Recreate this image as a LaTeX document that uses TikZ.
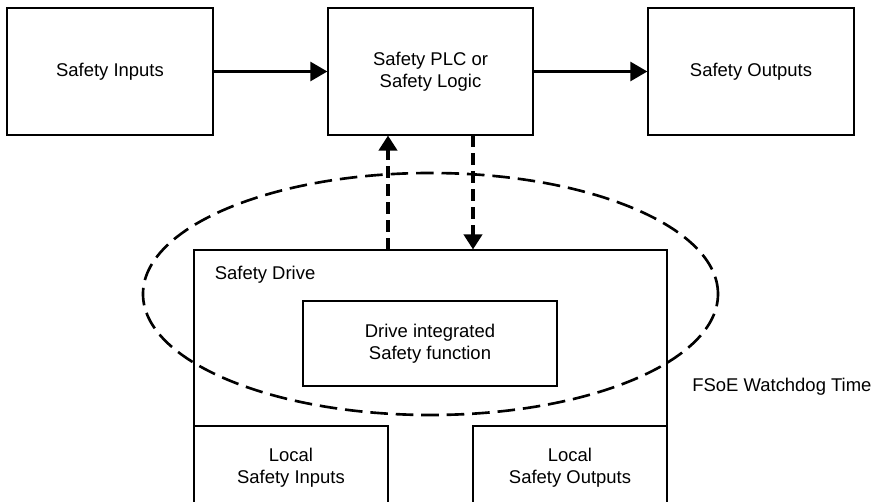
\documentclass[tikz,border=0pt]{standalone}
\usepackage{fontspec}
\setmainfont{Liberation Sans}
\usepackage{tikz}
\usetikzlibrary{arrows.meta,positioning}

\begin{document}
\begin{tikzpicture}[font=\fontsize{10.5}{12.6}\selectfont,
  box/.style={draw,line width=0.6pt,fill=white,align=center,inner sep=0pt},
  flow/.style={line width=2.2pt,-{Triangle[length=3.4mm,width=3.7mm]}},
  link/.style={line width=2.2pt,dash pattern=on 6.8pt off 3.4pt,-{Triangle[length=3mm,width=3.6mm]}},
  ring/.style={line width=1.5pt,dash pattern=on 10pt off 4.5pt}]
\useasboundingbox (0,0) rectangle (17.48,10.04);
\clip (0,0) rectangle (17.48,10.04);
\node[box,minimum width=4.12cm,minimum height=2.54cm] (inputs) at (2.2,8.61) {Safety Inputs};
\node[box,minimum width=4.1cm,minimum height=2.54cm] (plc) at (8.61,8.61) {Safety PLC or\\Safety Logic};
\node[box,minimum width=4.12cm,minimum height=2.54cm] (outputs) at (15.02,8.61) {Safety Outputs};
\node[box,minimum width=9.46cm,minimum height=5.34cm] (drive) at (8.61,2.37) {};
\node[anchor=west,inner sep=0pt] (drivelbl) at ([shift={(0.42cm,-0.5cm)}]drive.north west) {Safety Drive};
\node[box,minimum width=5.08cm,minimum height=1.7cm] (func) at (8.6,3.17) {Drive integrated\\Safety function};
\node[box,minimum width=3.88cm,minimum height=1.68cm] (locin) at (5.82,0.68) {Local\\Safety Inputs};
\node[box,minimum width=3.88cm,minimum height=1.68cm] (locout) at (11.4,0.68) {Local\\Safety Outputs};
\draw[flow] (inputs) -- (plc);
\draw[flow] (plc) -- (outputs);
\draw[link] ([xshift=-0.85cm]drive.north) -- ([xshift=-0.85cm]plc.south);
\draw[link] ([xshift=0.85cm]plc.south) -- ([xshift=0.85cm]drive.north);
\draw[ring] (8.61,4.16) ellipse [x radius=5.75cm,y radius=2.42cm];
\node[anchor=west,inner sep=0pt] (wdt) at (13.84,2.3) {FSoE Watchdog Time};
\end{tikzpicture}
\end{document}
